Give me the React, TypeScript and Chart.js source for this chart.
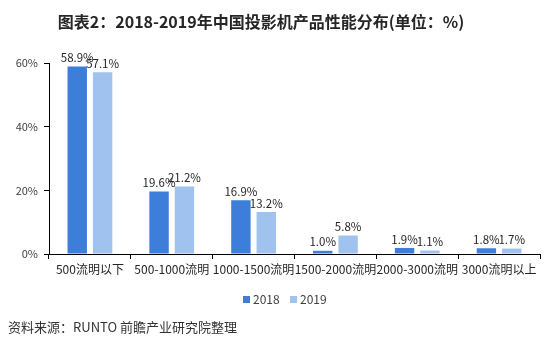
import React, { useEffect, useRef } from "react";
import { Chart, registerables } from "chart.js";

Chart.register(...registerables);

const categories = ["500流明以下", "500-1000流明", "1000-1500流明", "1500-2000流明", "2000-3000流明", "3000流明以上"];
const series2018 = [58.9, 19.6, 16.9, 1.0, 1.9, 1.8];
const series2019 = [57.1, 21.2, 13.2, 5.8, 1.1, 1.7];
const yTicks = [0, 20, 40, 60];
const seriesNames = ["2018", "2019"];
const titleText = "图表2：2018-2019年中国投影机产品性能分布(单位：%)";
const sourceText = "资料来源：RUNTO 前瞻产业研究院整理";

const FONT = '"Noto Sans CJK SC", "Noto Sans", sans-serif';
const COLORS = ["#3D7EDB", "#A0C2EE"];

const overlayPlugin = {
  id: "overlay",
  afterDatasetsDraw(chart: any) {
    const ctx = chart.ctx;
    ctx.save();
    // data labels
    ctx.font = `11.5px ${FONT}`;
    ctx.fillStyle = "#262626";
    ctx.textAlign = "center";
    ctx.textBaseline = "bottom";
    chart.data.datasets.forEach((ds: any, i: number) => {
      const meta = chart.getDatasetMeta(i);
      meta.data.forEach((bar: any, j: number) => {
        ctx.fillText(ds.data[j].toFixed(1) + "%", bar.x, bar.y - 3);
      });
    });
    // title
    ctx.font = `bold 16px ${FONT}`;
    ctx.fillStyle = "#262626";
    ctx.textAlign = "center";
    ctx.textBaseline = "middle";
    ctx.fillText(titleText, 261, 22);
    // source
    ctx.font = `13px ${FONT}`;
    ctx.fillStyle = "#333333";
    ctx.textAlign = "left";
    ctx.fillText(sourceText, 8, 327);
    // legend
    ctx.font = `12px ${FONT}`;
    const lx = [243, 290];
    chart.data.datasets.forEach((ds: any, i: number) => {
      ctx.fillStyle = ds.backgroundColor;
      ctx.fillRect(lx[i], 296, 7, 7);
      ctx.fillStyle = "#404040";
      ctx.textAlign = "left";
      ctx.textBaseline = "middle";
      ctx.fillText(ds.label, lx[i] + 10, 299.5);
    });
    ctx.restore();
  },
};

export default function App() {
  const ref = useRef<HTMLCanvasElement>(null);
  useEffect(() => {
    if (!ref.current) return;
    const chart = new Chart(ref.current, {
      type: "bar",
      data: {
        labels: categories,
        datasets: [
          { label: seriesNames[0], data: series2018, backgroundColor: COLORS[0], categoryPercentage: 0.62, barPercentage: 0.765 },
          { label: seriesNames[1], data: series2019, backgroundColor: COLORS[1], categoryPercentage: 0.62, barPercentage: 0.765 },
        ],
      },
      options: {
        animation: false,
        responsive: true,
        maintainAspectRatio: false,
        layout: { padding: { top: 63, left: 0, right: 10, bottom: 68 } },
        plugins: { legend: { display: false }, title: { display: false }, tooltip: { enabled: false } },
        scales: {
          x: {
            offset: true,
            afterFit: (s: any) => { s.height = 30; },
            grid: { display: true, drawOnChartArea: false, offset: true, tickLength: 5, color: "#000000" },
            border: { display: true, color: "#000000" },
            ticks: { color: "#262626", font: { family: FONT, size: 12 }, padding: 3, maxRotation: 0, autoSkip: false },
          },
          y: {
            min: 0,
            max: 60,
            afterFit: (s: any) => { s.width = 49; },
            afterBuildTicks: (s: any) => { s.ticks = yTicks.map((v) => ({ value: v })); },
            grid: { display: true, drawOnChartArea: false, tickLength: 5, color: "#000000" },
            border: { display: true, color: "#000000" },
            ticks: { color: "#404040", font: { family: FONT, size: 11 }, padding: 6, callback: (v: any) => v + "%" },
          },
        },
      },
      plugins: [overlayPlugin],
    });
    return () => chart.destroy();
  }, []);
  return (
    <div style={{ position: "absolute", left: 0, top: 0, width: 550, height: 352, background: "#fff" }}>
      <canvas ref={ref} />
    </div>
  );
}
